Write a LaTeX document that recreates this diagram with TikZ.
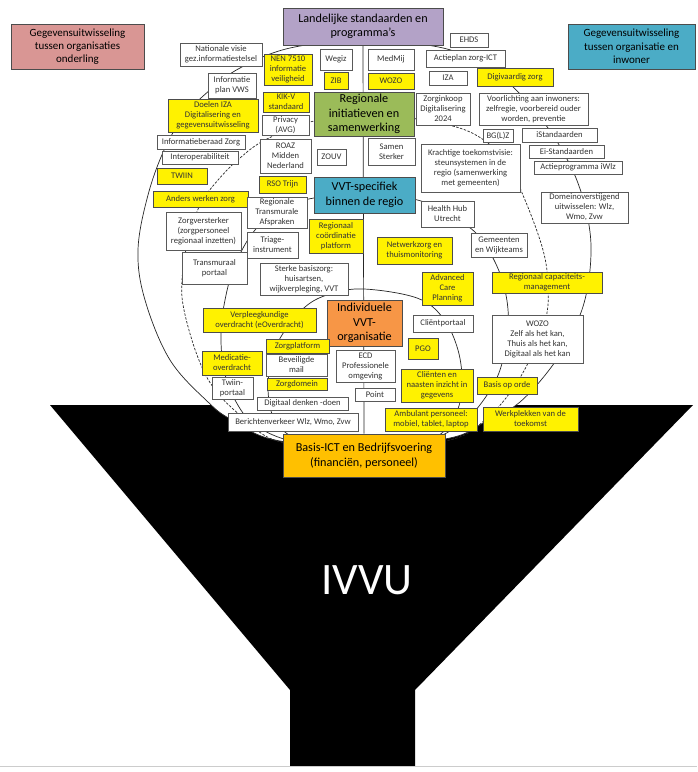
\documentclass[tikz,border=0pt]{standalone}
\usepackage{fontspec}
\setmainfont{Carlito}
\usetikzlibrary{backgrounds}
\definecolor{cpink}{HTML}{D99694}
\definecolor{cteal}{HTML}{4BACC6}
\definecolor{cpurple}{HTML}{B3A2C7}
\definecolor{cgreen}{HTML}{9BBB59}
\definecolor{corange}{HTML}{F79646}
\definecolor{cgold}{HTML}{FFC000}
\newcommand\mybox[7]{\node[#6, minimum width={(#4)-(#2)}, minimum height={(#5)-(#3)}] (#1) at ({((#2)+(#4))/2},{((#3)+(#5))/2}) {#7};}
\begin{document}
\begin{tikzpicture}[x=1pt,y=-1pt,
  sb/.style={draw=black!65, fill=white, line width=0.6pt, align=center, inner sep=0.5pt, font=\fontsize{8.6}{10}\selectfont, text=black!80},
  yb/.style={sb, fill=yellow, draw=black!70},
  bigb/.style={draw=black!70, line width=0.8pt, align=center, inner sep=0pt, font=\fontsize{12.2}{14.5}\selectfont, text=black},
  corner/.style={bigb, font=\fontsize{11}{13.3}\selectfont},
  curve/.style={draw=black!85, line width=0.7pt}]
\useasboundingbox (0,0) rectangle (697,772);
% corner boxes
\mybox{gorg}{11}{24}{144}{69}{corner,fill=cpink}{Gegevensuitwisseling\\tussen organisaties\\onderling}
\mybox{ginw}{568}{24}{695}{69}{corner,fill=cteal}{Gegevensuitwisseling\\tussen organisatie en\\inwoner}
% main column
\mybox{lstd}{283}{8}{443}{45}{bigb,fill=cpurple}{Landelijke standaarden en\\programma’s}
\mybox{reg}{314}{92}{414}{136}{bigb,fill=cgreen}{Regionale\\initiatieven en\\samenwerking}
\mybox{vvt}{314}{177}{415}{213}{bigb,fill=cteal}{VVT-specifiek\\binnen de regio}
\mybox{indiv}{327}{300}{402}{346}{bigb,fill=corange}{Individuele\\VVT-\\organisatie}
\mybox{basisict}{283}{434}{445}{477}{bigb,fill=cgold}{Basis-ICT en Bedrijfsvoering\\(financiën, personeel)}
% small boxes
\mybox{nat}{180}{43}{262}{66}{sb}{Nationale visie\\gez.informatiestelsel}
\mybox{ehds}{450}{33}{488}{47}{sb}{EHDS}
\mybox{actzict}{426}{50}{505}{67}{sb}{Actieplan zorg-ICT}
\mybox{wegiz}{320}{49}{352}{70}{sb}{Wegiz}
\mybox{medmij}{368}{49}{414}{70}{sb}{MedMij}
\mybox{nen}{264}{54}{312}{85}{yb}{NEN 7510\\informatie\\veiligheid}
\mybox{infvws}{208}{73}{256}{98}{sb}{Informatie\\plan VWS}
\mybox{zib}{324}{72}{348}{89}{yb}{ZIB}
\mybox{wozoa}{368}{73}{414}{89}{yb}{WOZO}
\mybox{iza}{429}{71}{467}{85}{sb}{IZA}
\mybox{digi}{477}{68}{553}{86}{yb}{Digivaardig zorg}
\mybox{kikv}{263}{92}{309}{112}{yb}{KIK-V\\standaard}
\mybox{doelen}{168}{99}{258}{132}{yb}{Doelen IZA\\Digitalisering en\\gegevensuitwisseling}
\mybox{zinkoop}{416}{93}{470}{125}{sb}{Zorginkoop\\Digitalisering\\2024}
\mybox{voorl}{479}{93}{588}{125}{sb}{Voorlichting aan inwoners:\\zelfregie, voorbereid ouder\\worden, preventie}
\mybox{privacy}{262}{115}{309}{135}{sb}{Privacy\\(AVG)}
\mybox{infober}{157}{135}{245}{149}{sb}{Informatieberaad Zorg}
\mybox{interop}{162}{151}{238}{164}{sb}{Interoperabiliteit}
\mybox{roaz}{260}{139}{311}{173}{sb}{ROAZ\\Midden\\Nederland}
\mybox{zouv}{317}{149}{346}{165}{sb}{ZOUV}
\mybox{samen}{368}{138}{415}{165}{sb}{Samen\\Sterker}
\mybox{bglz}{483}{129}{513}{142}{sb}{BG(L)Z}
\mybox{istd}{522}{128}{597}{142}{sb}{iStandaarden}
\mybox{ei}{529}{145}{604}{158}{sb}{Ei-Standaarden}
\mybox{krachtig}{421}{144}{520}{192}{sb}{Krachtige toekomstvisie:\\steunsystemen in de\\regio (samenwerking\\met gemeenten)}
\mybox{actiwlz}{534}{161}{622}{174}{sb}{Actieprogramma iWlz}
\mybox{twiin}{157}{168}{207}{184}{yb}{TWIIN}
\mybox{rso}{259}{176}{306}{193}{yb}{RSO Trijn}
\mybox{anders}{153}{191}{248}{207}{yb}{Anders werken zorg}
\mybox{domein}{541}{192}{628}{223}{sb}{Domeinoverstijgend\\uitwisselen: Wlz,\\Wmo, Zvw}
\mybox{rta}{247}{197}{307}{228}{sb}{Regionale\\Transmurale\\Afspraken}
\mybox{hhub}{421}{201}{474}{227}{sb}{Health Hub\\Utrecht}
\mybox{zverst}{166}{212}{241}{250}{sb}{Zorgversterker\\(zorgpersoneel\\regionaal inzetten)}
\mybox{rcp}{309}{219}{363}{253}{yb}{Regionaal\\coördinatie\\platform}
\mybox{triage}{247}{232}{298}{258}{sb}{Triage-\\instrument}
\mybox{gem}{471}{233}{527}{257}{sb}{Gemeenten\\en Wijkteams}
\mybox{netw}{377}{237}{452}{264}{yb}{Netwerkzorg en\\thuismonitoring}
\mybox{tmp}{182}{252}{247}{284}{sb}{Transmuraal\\portaal}
\mybox{sterke}{260}{263}{348}{295}{sb}{Sterke basiszorg:\\huisartsen,\\wijkverpleging, VVT}
\mybox{acp}{422}{272}{473}{305}{yb}{Advanced\\Care\\Planning}
\mybox{rcm}{492}{272}{602}{293}{yb}{Regionaal capaciteits-\\management}
\mybox{clientp}{413}{315}{473}{332}{sb}{Cliëntportaal}
\mybox{wozob}{492}{315}{583}{363}{sb}{WOZO\\Zelf als het kan,\\Thuis als het kan,\\Digitaal als het kan}
\mybox{verpl}{203}{308}{316}{332}{yb}{Verpleegkundige\\overdracht (eOverdracht)}
\mybox{zplat}{266}{339}{329}{353}{yb}{Zorgplatform}
\mybox{pgo}{408}{338}{438}{359}{yb}{PGO}
\mybox{ecd}{336}{350}{395}{382}{sb}{ECD\\Professionele\\omgeving}
\mybox{medic}{202}{351}{262}{375}{yb}{Medicatie-\\overdracht}
\mybox{bevm}{266}{354}{327}{376}{sb}{Beveiligde\\mail}
\mybox{clnaast}{401}{369}{473}{402}{yb}{Cliënten en\\naasten inzicht in\\gegevens}
\mybox{basisorde}{477}{377}{537}{394}{yb}{Basis op orde}
\mybox{twiinp}{212}{377}{253}{399}{sb}{Twiin-\\portaal}
\mybox{zdomein}{267}{378}{327}{390}{yb}{Zorgdomein}
\mybox{point}{355}{388}{395}{401}{sb}{Point}
\mybox{digdenk}{257}{397}{348}{410}{sb}{Digitaal denken -doen}
\mybox{bericht}{228}{413}{358}{431}{sb}{Berichtenverkeer Wlz, Wmo, Zvw}
\mybox{ambu}{385}{408}{477}{431}{yb}{Ambulant personeel:\\mobiel, tablet, laptop}
\mybox{werkpl}{483}{407}{578}{431}{yb}{Werkplekken van de\\toekomst}
\node[text=white, font=\fontsize{45}{50}\selectfont] (ivvu) at (367,580) {IVVU};
\begin{scope}[on background layer]
  \fill[black] (50,405) -- (693,405) -- (415,690) -- (415,766) -- (290,766) -- (290,690) -- cycle;
  \draw[black!20, line width=0.6pt] (0,766) -- (697,766);
  % outer solid curve
  \filldraw[fill=white, curve] plot[smooth cycle, tension=0.6] coordinates {
    (364,40) (433,46) (470,58) (505,80) (530,105) (548,128) (562,150) (576,178)
    (586,210) (591,245) (588,285) (578,320) (555,362) (520,402) (485,422)
    (450,438) (364,448) (275,440) (232,420) (208,402) (170,360) (145,300)
    (138,250) (148,195) (165,148) (185,115) (210,90) (240,68) (290,48)};
  % dashed curve
  \draw[curve, dash pattern=on 2.5pt off 1.5pt] plot[smooth cycle, tension=0.6] coordinates {
    (364,114) (417,119) (470,132) (505,160) (525,200) (543,250) (548,285)
    (546,318) (532,355) (512,390) (485,420) (450,440) (364,450) (280,442)
    (240,415) (213,387) (197,355) (184,310) (182,280) (188,240) (200,205)
    (218,180) (240,158) (265,140) (310,122)};
  % second solid curve
  \draw[curve] plot[smooth cycle, tension=0.6] coordinates {
    (364,195) (413,199) (440,210) (475,232) (495,262) (506,295) (508,330)
    (500,370) (485,398) (465,420) (430,440) (364,450) (295,442) (255,425)
    (235,400) (224,370) (221,335) (225,300) (235,265) (255,230) (285,207) (320,197)};
  % inner solid curve
  \draw[curve] plot[smooth cycle, tension=0.6] coordinates {
    (364,289) (417,298) (443,318) (458,350) (462,385) (455,415) (430,440)
    (364,450) (300,440) (275,420) (268,390) (272,360) (282,335) (305,307) (330,294)};
  % central vertical line
  \draw[curve] (lstd.south) -- (basisict.north);
\end{scope}
\end{tikzpicture}
\end{document}
